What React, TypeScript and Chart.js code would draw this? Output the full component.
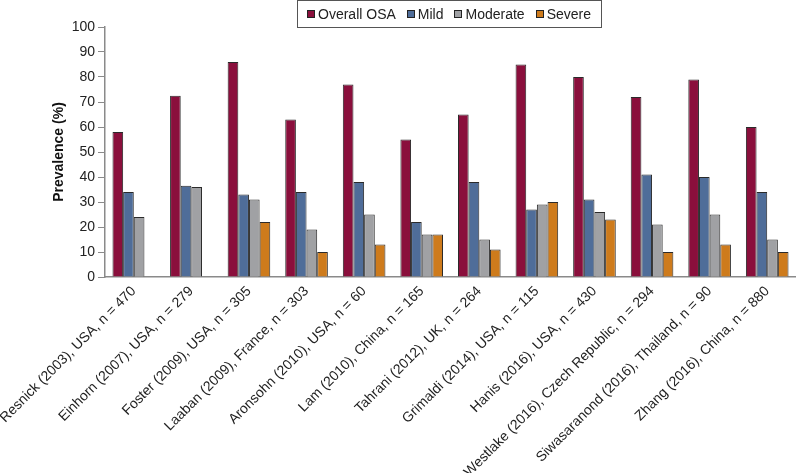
import React, { useEffect, useRef } from "react";
import { Chart, registerables } from "chart.js";

Chart.register(...registerables);

const studies = [
  "Resnick (2003), USA, n = 470",
  "Einhorn (2007), USA, n = 279",
  "Foster (2009), USA, n = 305",
  "Laaban (2009), France, n = 303",
  "Aronsohn (2010), USA, n = 60",
  "Lam (2010), China, n = 165",
  "Tahrani (2012), UK, n = 264",
  "Grimaldi (2014), USA, n = 115",
  "Hanis (2016), USA, n = 430",
  "Westlake (2016), Czech Republic, n = 294",
  "Siwasaranond (2016), Thailand, n = 90",
  "Zhang (2016), China, n = 880",
];

const overallOSA = [58, 72.5, 86, 63, 77, 55, 65, 85, 80, 72, 79, 60];
const mild = [34, 36.5, 33, 34, 38, 22, 38, 27, 31, 41, 40, 34];
const moderate = [24, 36, 31, 19, 25, 17, 15, 29, 26, 21, 25, 15];
const severe = [null, null, 22, 10, 13, 17, 11, 30, 23, 10, 13, 10];

const seriesNames = ["Overall OSA", "Mild", "Moderate", "Severe"];
const seriesColors = ["#8A0F3C", "#4F6D99", "#A0A1A4", "#CE7B1C"];
const yTicks = [0, 10, 20, 30, 40, 50, 60, 70, 80, 90, 100];

const FONT = "'Liberation Sans', Arial, Helvetica, sans-serif";

const legendPlugin = {
  id: "boxLegend",
  afterDraw(chart: any) {
    const ctx = chart.ctx;
    ctx.save();
    ctx.font = `14px ${FONT}`;
    const sw = 8;
    const gapSwText = 3;
    const gapItems = 11;
    const widths = seriesNames.map((n) => sw + gapSwText + ctx.measureText(n).width);
    const total = widths.reduce((a, b) => a + b, 0) + gapItems * (seriesNames.length - 1);
    const padX = 10;
    const boxW = total + padX * 2;
    const boxX = 449 - boxW / 2;
    const boxY = 0.5;
    const boxH = 27;
    ctx.strokeStyle = "#555";
    ctx.lineWidth = 1;
    ctx.strokeRect(Math.round(boxX) + 0.5, boxY, Math.round(boxW), boxH);
    let x = boxX + padX;
    const cy = 14;
    seriesNames.forEach((n, i) => {
      ctx.fillStyle = seriesColors[i];
      ctx.fillRect(Math.round(x), cy - 4, sw, sw);
      ctx.strokeStyle = "#222";
      ctx.strokeRect(Math.round(x) + 0.5, cy - 3.5, sw - 1, sw - 1);
      ctx.fillStyle = "#222";
      ctx.textBaseline = "middle";
      ctx.textAlign = "left";
      ctx.fillText(n, x + sw + gapSwText, cy + 1);
      x += widths[i] + gapItems;
    });
    ctx.restore();
  },
};

export default function App() {
  const ref = useRef<HTMLCanvasElement>(null);
  useEffect(() => {
    document.body.style.margin = "0";
    const chart = new Chart(ref.current as HTMLCanvasElement, {
      type: "bar",
      data: {
        labels: studies,
        datasets: [overallOSA, mild, moderate, severe].map((d, i) => ({
          label: seriesNames[i],
          data: d as any,
          backgroundColor: seriesColors[i],
          borderColor: "#2a2a2a",
          borderWidth: 1,
          categoryPercentage: 0.74,
          barPercentage: 1,
        })),
      },
      options: {
        responsive: false,
        animation: false,
        devicePixelRatio: 1,
        layout: { padding: { top: 27, left: 0, right: 0, bottom: 0 } },
        plugins: {
          legend: { display: false },
          tooltip: { enabled: false },
        },
        scales: {
          x: {
            grid: { display: false, drawTicks: false },
            border: { display: true, color: "#8a8a8a", width: 1.5 },
            ticks: {
              autoSkip: false,
              maxRotation: 45,
              minRotation: 45,
              padding: 6,
              color: "#222",
              font: { family: FONT, size: 14 },
            },
            afterFit(scale: any) {
              scale.height = 196;
              scale.paddingLeft = 0;
              scale.paddingRight = 0;
            },
          },
          y: {
            min: 0,
            max: 100,
            afterBuildTicks(scale: any) {
              scale.ticks = yTicks.map((v) => ({ value: v }));
            },
            grid: {
              drawOnChartArea: false,
              drawTicks: true,
              tickLength: 7,
              color: "#8a8a8a",
            },
            border: { display: true, color: "#8a8a8a", width: 1.5 },
            ticks: {
              padding: 3,
              color: "#222",
              font: { family: FONT, size: 14 },
            },
            title: {
              display: true,
              text: "Prevalence (%)",
              color: "#111",
              font: { family: FONT, size: 14, weight: "bold" },
              padding: { top: 51, bottom: 0 },
            },
            afterFit(scale: any) {
              scale.width = 105;
            },
          },
        },
      },
      plugins: [legendPlugin],
    });
    return () => chart.destroy();
  }, []);
  return (
    <div style={{ width: 796, height: 473 }}>
      <canvas ref={ref} width={796} height={473} style={{ display: "block" }} />
    </div>
  );
}
